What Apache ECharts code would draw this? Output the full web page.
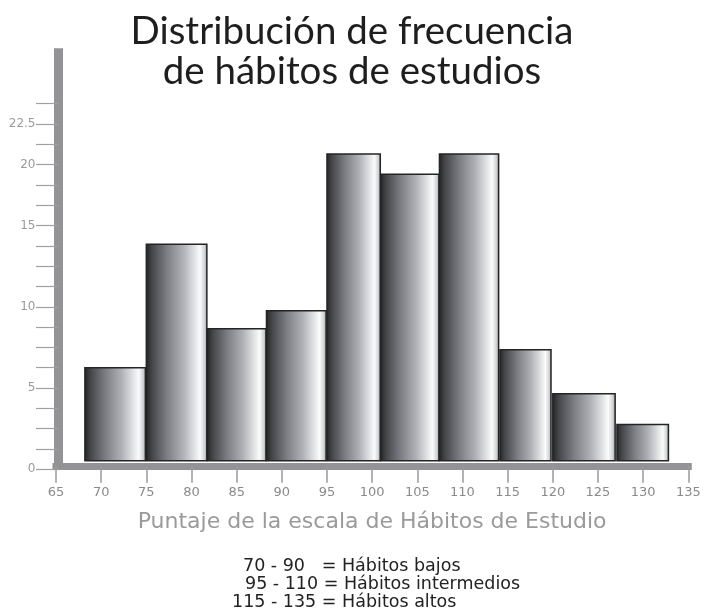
<!DOCTYPE html>
<html>
<head>
<meta charset="utf-8">
<script src="https://cdn.jsdelivr.net/npm/echarts@6/dist/echarts.min.js"></script>
<style>
  html, body { margin: 0; padding: 0; background: #fff; }
  #chart { width: 704px; height: 614px; }
</style>
</head>
<body>
<div id="chart"></div>
<script>
// Histogram bins: lower edge, upper edge (score) and frequency
const binStart = [68.2, 75.0, 81.75, 88.3, 95.0, 100.95, 107.45, 114.15, 120.0, 127.1];
const binEnd   = [74.9, 81.7, 88.25, 94.9, 100.9, 107.4, 114.0, 119.8, 126.9, 132.8];
const frequency = [6.25, 13.85, 8.65, 9.75, 19.4, 18.15, 19.4, 7.35, 4.65, 2.75];

// Vertical axis: minor tick step and the labelled ticks
const yTickStep = 1.25;
const yTickCount = 19;
const yLabelValues = [0, 5, 10, 15, 18.75, 21.25];
const yLabelTexts = ['0', '5', '10', '15', '20', '22.5'];

// Horizontal axis range
const xMin = 65, xMax = 135, xStep = 5;

const titleLines = ['Distribución de frecuencia', 'de hábitos de estudios'];
const xAxisTitle = 'Puntaje de la escala de Hábitos de Estudio';
const keyLines = [
  '70 - 90   = Hábitos bajos',
  '95 - 110 = Hábitos intermedios',
  '115 - 135 = Hábitos altos'
];

const AXIS_GRAY = '#939396';
const BAND = 7;

const yTicks = [];
for (let k = 0; k < yTickCount; k++) yTicks.push(k * yTickStep);

const bins = binStart.map((s, i) => [s, binEnd[i], frequency[i]]);

const barFill = {
  type: 'linear', x: 0, y: 0, x2: 1, y2: 0,
  colorStops: [
    { offset: 0.00, color: '#222222' },
    { offset: 0.10, color: '#444548' },
    { offset: 0.35, color: '#7d7f85' },
    { offset: 0.60, color: '#aeb0b5' },
    { offset: 0.80, color: '#e4e5e7' },
    { offset: 0.88, color: '#fbfbfb' },
    { offset: 0.95, color: '#d2d3d5' },
    { offset: 1.00, color: '#9a9b9e' }
  ]
};

const chart = echarts.init(document.getElementById('chart'), null, { renderer: 'canvas' });

// Key explaining the score ranges, one text line each
const keyX = [243, 245, 232];
const keyGraphics = keyLines.map((t, i) => ({
  type: 'text', x: keyX[i], y: 566 + i * 18,
  style: { text: t, font: '17.5px "DejaVu Sans"', fill: '#222', verticalAlign: 'middle' }
}));

chart.setOption({
  backgroundColor: '#fff',
  animation: false,
  title: {
    text: titleLines.join('\n'),
    left: 'center',
    top: 7,
    textStyle: {
      fontFamily: 'Lato',
      fontWeight: 'normal',
      fontSize: 38.5,
      lineHeight: 40,
      color: '#1e1e1e'
    }
  },
  grid: {
    left: 56, right: 15.7, top: 48.3, bottom: 144.7,
    outerBoundsMode: 'none'
  },
  xAxis: {
    type: 'value',
    min: xMin, max: xMax, interval: xStep,
    offset: -3.5,
    z: 5,
    axisLine: { onZero: false, lineStyle: { color: AXIS_GRAY, width: BAND, cap: 'square' } },
    axisTick: { length: 17, lineStyle: { color: '#9a9a9a', width: 1.5 } },
    axisLabel: {
      margin: 20,
      fontFamily: '"DejaVu Sans"', fontSize: 13, color: '#8a8a8a'
    },
    splitLine: { show: false },
    name: xAxisTitle,
    nameLocation: 'middle',
    nameGap: 45,
    nameTextStyle: { fontFamily: '"DejaVu Sans"', fontSize: 22, color: '#9a9a9a' }
  },
  yAxis: {
    type: 'value',
    min: 0, max: 25.9,
    offset: -2.5,
    z: 5,
    axisLine: { onZero: false, lineStyle: { color: AXIS_GRAY, width: 9, cap: 'butt' } },
    axisTick: { customValues: yTicks, length: 22.5, lineStyle: { color: '#a0a0a0', width: 1.2 } },
    axisLabel: {
      customValues: yLabelValues,
      margin: 23,
      fontFamily: '"DejaVu Sans"', fontSize: 12, color: '#9a9a9a',
      formatter: v => {
        const i = yLabelValues.findIndex(x => Math.abs(x - v) < 1e-6);
        return i >= 0 ? yLabelTexts[i] : '';
      }
    },
    splitLine: { show: false }
  },
  series: [{
    type: 'custom',
    data: bins,
    encode: { x: [0, 1], y: 2 },
    z: 2,
    renderItem: (params, api) => {
      const base = api.coord([api.value(0), 0]);
      const top = api.coord([api.value(1), api.value(2)]);
      // bars stand on top of the thick horizontal axis band
      const bottomY = base[1] - BAND - 1.5;
      return {
        type: 'rect',
        shape: { x: base[0], y: top[1], width: top[0] - base[0], height: bottomY - top[1] },
        style: { fill: barFill, stroke: '#242424', lineWidth: 1.5 }
      };
    }
  }],
  graphic: keyGraphics
});
</script>
</body>
</html>
